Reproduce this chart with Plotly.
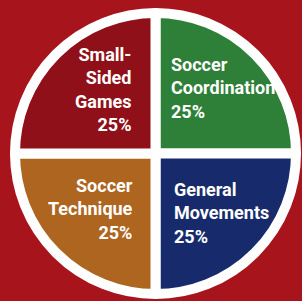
import plotly.graph_objects as go

# Data
labels = ["Soccer Coordination", "General Movements", "Soccer Technique", "Small-Sided Games"]
label_lines = [["Soccer", "Coordination"], ["General", "Movements"], ["Soccer", "Technique"], ["Small-", "Sided", "Games"]]
values = [25, 25, 25, 25]
colors = ["#2e7f37", "#172b6c", "#ad651f", "#8f1018"]

W, H = 302, 301
total = sum(values)
pcts = [f"{round(v / total * 100)}%" for v in values]

fig = go.Figure(go.Pie(
    labels=labels,
    values=values,
    sort=False,
    direction="clockwise",
    rotation=0,
    textinfo="none",
    hoverinfo="label+percent",
    marker=dict(colors=colors, line=dict(color="white", width=10)),
    domain=dict(x=[15 / W, 296 / W], y=[7 / H, 288 / H]),
    showlegend=False,
))

# label placement: (x px, y px center, anchor/align)
placements = [
    (169, 88, "left"),
    (172, 213, "left"),
    (135, 209, "right"),
    (133, 90, "right"),
]
font = dict(family="Roboto, Liberation Sans Narrow, sans-serif",
            size=18, color="white", weight="bold")
for lines, pct, (px, py, side) in zip(label_lines, pcts, placements):
    fig.add_annotation(
        x=px / W, y=1 - py / H, xref="paper", yref="paper",
        text="<br>".join(lines + [pct]),
        showarrow=False, xanchor=side, yanchor="middle", align=side,
        font=font,
    )

fig.update_layout(
    width=W, height=H,
    margin=dict(l=0, r=0, t=0, b=0),
    paper_bgcolor="#a8141c",
    plot_bgcolor="#a8141c",
)
fig.write_html("out.html", config={"displayModeBar": False},
               post_script="document.body.style.margin='0';")
